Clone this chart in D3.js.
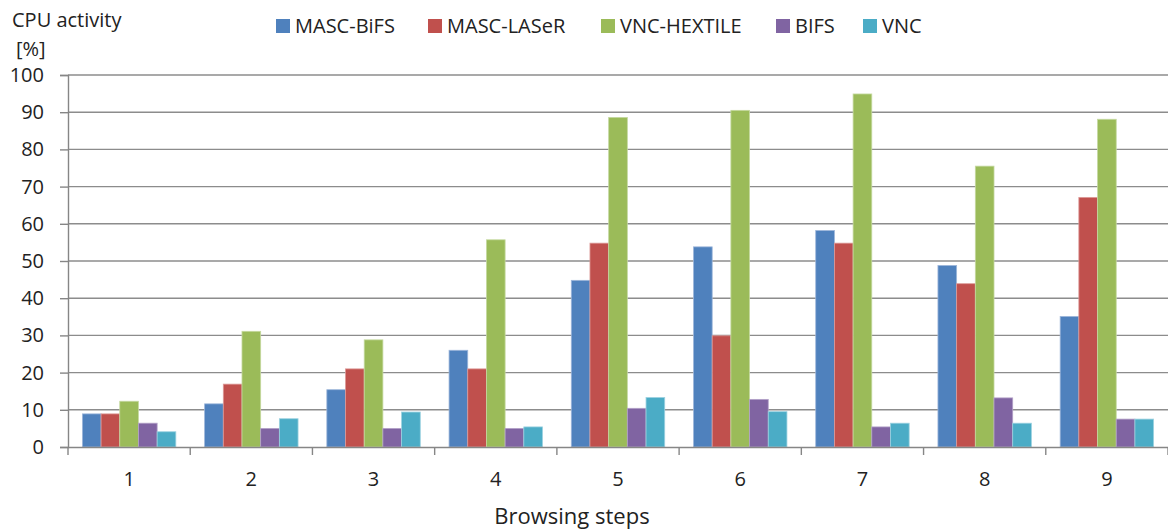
<!DOCTYPE html>
<html>
<head>
<meta charset="utf-8">
<script src="https://cdn.jsdelivr.net/npm/d3@7"></script>
<style>
  body { margin: 0; background: #fff; }
  text { font-family: "Open Sans", "Noto Sans", sans-serif; fill: #222; }
  .axis path, .axis line { stroke: #868686; }
</style>
</head>
<body>
<svg id="chart"></svg>
<script>
const steps = ['1', '2', '3', '4', '5', '6', '7', '8', '9'];
const seriesNames = ['MASC-BiFS', 'MASC-LASeR', 'VNC-HEXTILE', 'BIFS', 'VNC'];
const colors = ['#4F81BD', '#C0504D', '#9BBB59', '#8064A2', '#4BACC6'];
const strokes = ['#9DB6DA', '#DD9A98', '#C5D9A0', '#B3A2C8', '#9CD2E0'];

const mascBifs   = [8.9, 11.6, 15.4, 26.0, 44.8, 53.8, 58.2, 48.8, 35.1];
const mascLaser  = [8.9, 16.9, 21.0, 21.0, 54.8, 29.9, 54.8, 43.9, 67.1];
const vncHextile = [12.3, 31.1, 28.8, 55.7, 88.6, 90.5, 94.9, 75.5, 88.1];
const bifs       = [6.4, 5.0, 5.0, 5.0, 10.4, 12.8, 5.4, 13.2, 7.5];
const vnc        = [4.1, 7.6, 9.4, 5.4, 13.3, 9.5, 6.4, 6.4, 7.5];
const yTicks = [0, 10, 20, 30, 40, 50, 60, 70, 80, 90, 100];

const allSeries = [mascBifs, mascLaser, vncHextile, bifs, vnc];

const W = 1168, H = 531;
const svg = d3.select('#chart').attr('width', W).attr('height', H);

const margin = {top: 75, right: 0, bottom: 84, left: 68};
const width = W - margin.left - margin.right;
const height = H - margin.top - margin.bottom;

const x0 = d3.scaleBand().domain(steps).range([0, width]).paddingInner(0).paddingOuter(0);
const x1 = d3.scaleBand().domain(seriesNames).range([0, x0.bandwidth()])
  .paddingInner(0).paddingOuter(0.77);
const y = d3.scaleLinear().domain([0, 100]).range([height, 0]);

const g = svg.append('g').attr('transform', `translate(${margin.left},${margin.top})`);

// gridlines
g.append('g')
  .selectAll('line')
  .data(yTicks.slice(1))
  .join('line')
  .attr('x1', 0).attr('x2', width)
  .attr('y1', d => y(d)).attr('y2', d => y(d))
  .attr('stroke', '#8c8c8c').attr('stroke-width', 1.4);

// y axis
const yAxis = g.append('g').attr('class', 'axis')
  .call(d3.axisLeft(y).tickValues(yTicks).tickSize(8).tickPadding(16));
yAxis.select('.domain').attr('stroke-width', 1.4);
yAxis.selectAll('line').attr('stroke-width', 1.4);
yAxis.selectAll('text').attr('font-size', 20).attr('fill', '#222');

// bars
const rows = steps.map((s, i) => ({step: s, vals: allSeries.map((arr, k) => ({name: seriesNames[k], k: k, v: arr[i]}))}));
g.append('g')
  .selectAll('g')
  .data(rows)
  .join('g')
  .attr('transform', d => `translate(${x0(d.step)},0)`)
  .selectAll('rect')
  .data(d => d.vals)
  .join('rect')
  .attr('x', d => x1(d.name))
  .attr('y', d => y(d.v))
  .attr('width', x1.bandwidth())
  .attr('height', d => y(0) - y(d.v))
  .attr('fill', d => colors[d.k])
  .attr('stroke', d => strokes[d.k])
  .attr('stroke-width', 0.8);

// x axis
const xAxis = g.append('g').attr('class', 'axis')
  .attr('transform', `translate(0,${height})`)
  .call(d3.axisBottom(x0).tickSize(0).tickPadding(25));
xAxis.select('.domain').attr('stroke-width', 1.4);
xAxis.selectAll('text').attr('font-size', 20).attr('fill', '#222');
xAxis.append('g')
  .selectAll('line')
  .data(d3.range(steps.length + 1))
  .join('line')
  .attr('x1', i => i * x0.step()).attr('x2', i => i * x0.step())
  .attr('y1', 0).attr('y2', 8)
  .attr('stroke', '#868686').attr('stroke-width', 1.4);

// axis titles
svg.append('text').attr('x', 12).attr('y', 27).attr('font-size', 20).text('CPU activity');
svg.append('text').attr('x', 16).attr('y', 56).attr('font-size', 20).text('[%]');
svg.append('text').attr('x', 572).attr('y', 524)
  .attr('text-anchor', 'middle').attr('font-size', 22).text('Browsing steps');

// legend
const legendX = [276, 428, 601, 776, 863];
const legend = svg.append('g')
  .selectAll('g')
  .data(seriesNames)
  .join('g')
  .attr('transform', (d, i) => `translate(${legendX[i]},19)`);
legend.append('rect').attr('width', 14).attr('height', 14).attr('fill', (d, i) => colors[i]);
legend.append('text').attr('x', 19).attr('y', 14).attr('font-size', 20).text(d => d);
</script>
</body>
</html>
